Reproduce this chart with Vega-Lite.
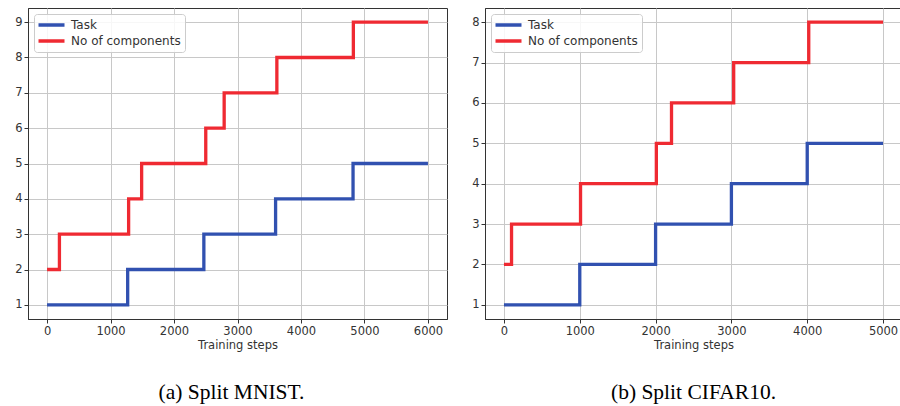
{
  "$schema": "https://vega.github.io/schema/vega-lite/v6.json",
  "padding": {"left": 14, "top": 7, "right": 0, "bottom": 0},
  "background": "white",
  "datasets": {
    "mnist": [
      {"series": "Task", "step": 0, "value": 1},
      {"series": "Task", "step": 1270, "value": 2},
      {"series": "Task", "step": 2470, "value": 3},
      {"series": "Task", "step": 3600, "value": 4},
      {"series": "Task", "step": 4820, "value": 5},
      {"series": "Task", "step": 6000, "value": 5},
      {"series": "No of components", "step": 0, "value": 2},
      {"series": "No of components", "step": 195, "value": 3},
      {"series": "No of components", "step": 1285, "value": 4},
      {"series": "No of components", "step": 1490, "value": 5},
      {"series": "No of components", "step": 2500, "value": 6},
      {"series": "No of components", "step": 2790, "value": 7},
      {"series": "No of components", "step": 3620, "value": 8},
      {"series": "No of components", "step": 4825, "value": 9},
      {"series": "No of components", "step": 6000, "value": 9}
    ],
    "cifar": [
      {"series": "Task", "step": 0, "value": 1},
      {"series": "Task", "step": 1000, "value": 2},
      {"series": "Task", "step": 2000, "value": 3},
      {"series": "Task", "step": 3000, "value": 4},
      {"series": "Task", "step": 4000, "value": 5},
      {"series": "Task", "step": 5000, "value": 5},
      {"series": "No of components", "step": 0, "value": 2},
      {"series": "No of components", "step": 100, "value": 3},
      {"series": "No of components", "step": 1010, "value": 4},
      {"series": "No of components", "step": 2010, "value": 5},
      {"series": "No of components", "step": 2210, "value": 6},
      {"series": "No of components", "step": 3030, "value": 7},
      {"series": "No of components", "step": 4020, "value": 8},
      {"series": "No of components", "step": 5000, "value": 8}
    ]
  },
  "spacing": 23,
  "resolve": {"scale": {"color": "independent", "x": "independent", "y": "independent"}, "legend": {"color": "independent"}},
  "hconcat": [
    {
      "width": 419,
      "height": 311,
      "data": {"name": "mnist"},
      "title": {"text": "(a)  Split MNIST.", "orient": "bottom", "anchor": "middle", "dx": -6, "offset": 31, "font": "Liberation Serif", "fontSize": 21.5, "fontWeight": "normal", "color": "black"},
      "mark": {"type": "line", "interpolate": "step-after", "strokeWidth": 3.3},
      "encoding": {
        "x": {"field": "step", "type": "quantitative", "title": "Training steps",
              "scale": {"domain": [-300, 6300], "nice": false, "zero": false},
              "axis": {"values": [0, 1000, 2000, 3000, 4000, 5000, 6000], "format": "d"}},
        "y": {"field": "value", "type": "quantitative", "title": null,
              "scale": {"domain": [0.6, 9.4], "nice": false, "zero": false},
              "axis": {"values": [1, 2, 3, 4, 5, 6, 7, 8, 9], "format": "d"}},
        "color": {"field": "series", "type": "nominal", "title": null,
                  "scale": {"domain": ["Task", "No of components"], "range": ["#3151b0", "#ef2a32"]},
                  "legend": {"orient": "top-left"}}
      }
    },
    {
      "width": 417,
      "height": 311,
      "data": {"name": "cifar"},
      "title": {"text": "(b)  Split CIFAR10.", "orient": "bottom", "anchor": "middle", "dx": 0, "offset": 31, "font": "Liberation Serif", "fontSize": 21.5, "fontWeight": "normal", "color": "black"},
      "mark": {"type": "line", "interpolate": "step-after", "strokeWidth": 3.3},
      "encoding": {
        "x": {"field": "step", "type": "quantitative", "title": "Training steps",
              "scale": {"domain": [-250, 5250], "nice": false, "zero": false},
              "axis": {"values": [0, 1000, 2000, 3000, 4000, 5000], "format": "d"}},
        "y": {"field": "value", "type": "quantitative", "title": null,
              "scale": {"domain": [0.65, 8.35], "nice": false, "zero": false},
              "axis": {"values": [1, 2, 3, 4, 5, 6, 7, 8], "format": "d"}},
        "color": {"field": "series", "type": "nominal", "title": null,
                  "scale": {"domain": ["Task", "No of components"], "range": ["#3151b0", "#ef2a32"]},
                  "legend": {"orient": "top-left"}}
      }
    }
  ],
  "config": {
    "font": "DejaVu Sans",
    "view": {"stroke": "#333333", "strokeWidth": 1},
    "axis": {
      "grid": true, "gridColor": "#c8c8c8", "gridWidth": 1,
      "domainColor": "#333333", "tickColor": "#333333", "tickSize": 4,
      "labelFont": "DejaVu Sans", "labelFontSize": 11.5, "labelColor": "#333333",
      "labelPadding": 2, "labelFlush": false, "labelOverlap": false,
      "titleFont": "DejaVu Sans", "titleFontSize": 11.5, "titleFontWeight": "normal", "titleColor": "#333333", "titlePadding": 3
    },
    "legend": {
      "offset": 6, "padding": 4, "cornerRadius": 3,
      "strokeColor": "#cccccc", "fillColor": "rgba(255,255,255,0.85)",
      "symbolType": "M-1.3,0H3.9", "symbolSize": 100, "symbolStrokeWidth": 3.5,
      "labelFont": "DejaVu Sans", "labelFontSize": 12, "labelColor": "#333333",
      "labelOffset": 19, "rowPadding": 2, "labelLimit": 300
    }
  }
}
